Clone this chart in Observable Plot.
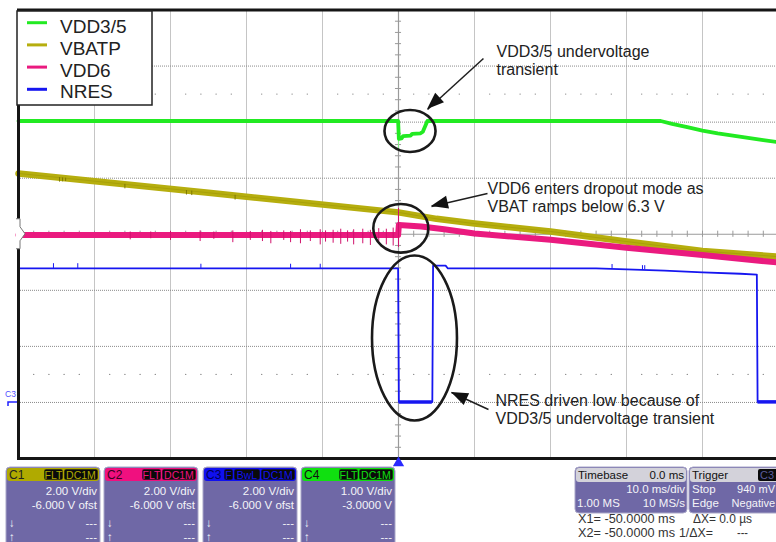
<!DOCTYPE html>
<html>
<head>
<meta charset="utf-8">
<script src="https://cdn.jsdelivr.net/npm/d3@7"></script>
<script src="https://cdn.jsdelivr.net/npm/@observablehq/plot@0.6"></script>
<style>
  html, body { margin: 0; padding: 0; background: #fff; }
  #wrap { position: relative; width: 776px; height: 542px; overflow: hidden; font-family: "Liberation Sans", Arial, sans-serif; }
  #chart { position: absolute; left: 0; top: 0; }
  #chart svg { max-width: none !important; }
  #panel { position: absolute; left: 0; top: 466px; }
</style>
</head>
<body>
<div id="wrap"><div id="chart"></div><svg id="panel" width="776" height="76"></svg></div>
<script>
// ---- Screen: 10 ms/div, trigger at 0 ms; vertical axis in divisions ----
const timeDomain = [-50, 50];
const divDomain = [-4, 4];
const gridTimes = [-40, -30, -20, -10, 10, 20, 30, 40];
const gridDivs = [-3, -2, -1, 1, 2, 3];

// ---- Channels ----
const traceNames = ["VDD3/5", "VBATP", "VDD6", "NRES"];
const traceColors = ["#22ea22", "#b6ae0e", "#ea1a7f", "#1616f0"];
const voltsPerDiv = [1, 2, 2, 2];
const offsetVolts = [-3, -6, -6, -6];

// VDD3/5 (C4)
const vdd35Time  = [-50, -0.05, 0.05, 0.4, 0.6, 1.6, 1.8, 2.9, 3.2, 3.8, 34.5, 36, 38, 40, 42, 44, 46, 48, 50];
const vdd35Volts = [5.02, 5.02, 4.70, 4.71, 4.75, 4.76, 4.79, 4.80, 4.83, 5.02, 5.02, 4.97, 4.91, 4.85, 4.80, 4.76, 4.72, 4.68, 4.64];
// VBATP (C1)
const vbatTime  = [-50, -25, 0, 5, 10, 20, 30, 40, 50];
const vbatVolts = [8.17, 7.48, 6.78, 6.55, 6.38, 6.10, 5.74, 5.40, 5.20];
// VDD6 (C2)
const vdd6Time  = [-50, -0.05, 0.05, 3, 6, 10, 20, 30, 40, 50];
const vdd6Volts = [5.97, 5.97, 6.33, 6.28, 6.18, 6.03, 5.80, 5.52, 5.26, 4.99];
// NRES (C3)
const nresTime  = [-50, -0.05, 0.05, 4.45, 4.55, 6.2, 6.5, 26, 35, 40, 45, 47.15, 47.25, 50];
const nresVolts = [4.78, 4.78, 0.02, 0.02, 4.88, 4.88, 4.78, 4.78, 4.70, 4.64, 4.59, 4.56, 0.02, 0.02];
const nresLowStart = [0.1, 47.3];
const nresLowEnd   = [4.45, 50];
const nresLowVolts = [0.02, 0.02];

// Glitches (time in ms, low/high in volts)
const vdd6GlitchTime = [-35.3, -32.6, -30.0, -26.1, -24.3, -21.8, -19.5, -17.9, -16.8, -15.1, -14.2, -12.9, -11.6, -10.3, -9.6, -8.6, -7.6, -6.7, -5.9, -4.7, -3.7, -2.6, -1.6, -0.7, 0];
const vdd6GlitchLow  = [5.80, 5.84, 5.78, 5.74, 5.82, 5.70, 5.78, 5.74, 5.66, 5.78, 5.70, 5.66, 5.74, 5.62, 5.72, 5.68, 5.64, 5.72, 5.62, 5.66, 5.60, 5.64, 5.62, 5.58, 5.53];
const vdd6GlitchHigh = [6.08, 6.08, 6.10, 6.12, 6.08, 6.12, 6.10, 6.14, 6.10, 6.12, 6.10, 6.16, 6.12, 6.16, 6.12, 6.14, 6.18, 6.12, 6.16, 6.18, 6.14, 6.20, 6.18, 6.22, 6.92];
const vbatGlitchTime = [-44.6, -44.2, -43.8, -36.0, -27.9, -27.2, -21.5];
const vbatGlitchLow  = [7.86, 7.87, 7.88, 7.62, 7.40, 7.38, 7.22];
const vbatGlitchHigh = [8.02, 8.01, 8.00, 7.78, 7.56, 7.54, 7.39];
const nresGlitchTime = [-45.4, -42.2, -26.0, -14.2, -10.3, 28.1, 32.1, 32.4];
const nresGlitchLow  = [4.78, 4.78, 4.78, 4.78, 4.78, 4.78, 4.74, 4.74];
const nresGlitchHigh = [4.95, 4.95, 4.93, 4.93, 4.93, 4.92, 4.88, 4.88];
const vdd35GlitchTime = [0];
const vdd35GlitchLow  = [4.49];
const vdd35GlitchHigh = [4.70];

// ---- Annotations ----
const noteText = ["VDD3/5 undervoltage\ntransient", "VDD6 enters dropout mode as\nVBAT ramps below 6.3 V", "NRES driven low because of\nVDD3/5 undervoltage transient"];
const noteTime = [12.89, 11.71, 12.76];
const noteDiv  = [3.387, 0.952, -2.830];
const arrowFromTime = [11.18, 11.71, 11.84];
const arrowFromDiv  = [3.134, 0.727, -3.126];
const arrowToTime   = [3.82, 4.34, 6.97];
const arrowToDiv    = [2.225, 0.495, -2.823];
const ellipseTime = [1.58, 0.37, 2.17];
const ellipseDiv  = [1.833, 0.097, -1.86];
const ellipseHalfTime = [3.36, 3.62, 5.59];
const ellipseHalfDiv  = [0.375, 0.433, 1.472];

// ---- Helpers ----
const toDiv = (ch, v) => (v + offsetVolts[ch]) / voltsPerDiv[ch];
const traceRows = (ch, ts, vs) => ts.map((t, i) => ({t, div: toDiv(ch, vs[i])}));
const glitchRows = (ch, ts, lo, hi) => ts.map((t, i) => ({t, lo: toDiv(ch, lo[i]), hi: toDiv(ch, hi[i])}));

const vdd35Rows = traceRows(0, vdd35Time, vdd35Volts);
const vbatRows  = traceRows(1, vbatTime, vbatVolts);
const vdd6Rows  = traceRows(2, vdd6Time, vdd6Volts);
const nresRows  = traceRows(3, nresTime, nresVolts);
const nresLowRows = nresLowStart.map((t1, i) => ({t1, t2: nresLowEnd[i], div: toDiv(3, nresLowVolts[i])}));

const noteRows = noteText.map((text, i) => ({text, t: noteTime[i], div: noteDiv[i]}));
const arrowRows = arrowFromTime.map((t1, i) => ({t1, d1: arrowFromDiv[i], t2: arrowToTime[i], d2: arrowToDiv[i]}));

// graticule: minor ticks on the centre axes (1/5 div) and half-division dot rows
const minorTimes = d3.range(-50, 50.001, 2);
const minorDivs = d3.range(-4, 4.001, 0.2);
const dotRows = d3.range(-48, 48.001, 2).filter(t => Math.abs(t % 10) > 0.01)
  .flatMap(t => [{t, div: 2.5}, {t, div: -2.5}]);

const plot = Plot.plot({
  width: 778,
  height: 466,
  marginLeft: 18,
  marginRight: 0,
  marginTop: 9.5,
  marginBottom: 8,
  x: {domain: timeDomain, axis: null},
  y: {domain: divDomain, axis: null},
  style: {background: "white", maxWidth: "none", overflow: "visible"},
  marks: [
    Plot.ruleX(gridTimes, {stroke: "#8a8a8a", strokeDasharray: "1,1"}),
    Plot.ruleY(gridDivs, {stroke: "#8a8a8a", strokeDasharray: "1,1"}),
    Plot.ruleX([0], {stroke: "#9a9a9a", strokeWidth: 1.2}),
    Plot.ruleY([0], {stroke: "#9a9a9a", strokeWidth: 1.2}),
    Plot.ruleX(minorTimes, {x: d => d, y1: -0.055, y2: 0.055, stroke: "#9a9a9a"}),
    Plot.ruleY(minorDivs, {y: d => d, x1: -0.4, x2: 0.4, stroke: "#9a9a9a"}),
    Plot.dot(dotRows, {x: "t", y: "div", r: 0.7, fill: "#888", stroke: null}),

    // traces
    Plot.line(vbatRows, {x: "t", y: "div", stroke: traceColors[1], strokeWidth: 6.5}),
    Plot.line(vbatRows, {x: "t", y: "div", stroke: "#8c8700", strokeWidth: 1, strokeOpacity: 0.35}),
    Plot.ruleX(glitchRows(1, vbatGlitchTime, vbatGlitchLow, vbatGlitchHigh), {x: "t", y1: "lo", y2: "hi", stroke: "#7f7a00", strokeWidth: 1}),
    Plot.line(vdd6Rows, {x: "t", y: "div", stroke: traceColors[2], strokeWidth: 6}),
    Plot.ruleX(glitchRows(2, vdd6GlitchTime, vdd6GlitchLow, vdd6GlitchHigh), {x: "t", y1: "lo", y2: "hi", stroke: "#d0126c", strokeWidth: 1}),
    Plot.line(nresRows, {x: "t", y: "div", stroke: traceColors[3], strokeWidth: 1.8}),
    Plot.ruleY(nresLowRows, {y: "div", x1: "t1", x2: "t2", stroke: traceColors[3], strokeWidth: 3.5}),
    Plot.ruleX(glitchRows(3, nresGlitchTime, nresGlitchLow, nresGlitchHigh), {x: "t", y1: "lo", y2: "hi", stroke: traceColors[3], strokeWidth: 1}),
    Plot.ruleX(glitchRows(0, vdd35GlitchTime, vdd35GlitchLow, vdd35GlitchHigh), {x: "t", y1: "lo", y2: "hi", stroke: "#86ee86", strokeWidth: 1}),
    Plot.line(vdd35Rows, {x: "t", y: "div", stroke: traceColors[0], strokeWidth: 3.8}),

    // annotations
    Plot.link(arrowRows, {x1: "t1", y1: "d1", x2: "t2", y2: "d2", stroke: "#1e1e1e", strokeWidth: 1.5}),
    Plot.text(noteRows, {x: "t", y: "div", text: "text", textAnchor: "start", lineAnchor: "top", lineHeight: 1.12,
      fontSize: 16, fontFamily: "Liberation Sans, Arial, sans-serif", fill: "#222"}),

    Plot.frame({stroke: "#151515", strokeWidth: 3}),
    Plot.dot([0], {x: d => d, y: -4, dy: 4.5, symbol: "triangle", r: 4.2, fill: "#2a2aff", stroke: null})
  ]
});

// ellipses, arrowheads, channel markers and legend drawn with the plot's own scales
const sx = plot.scale("x"), sy = plot.scale("y");
const svg = d3.select(plot);
const X = t => sx.apply(t), Y = d => sy.apply(d);

const gAnn = svg.append("g");
gAnn.selectAll("ellipse").data(ellipseTime).join("ellipse")
  .attr("cx", (t) => X(t))
  .attr("cy", (t, i) => Y(ellipseDiv[i]))
  .attr("rx", (t, i) => X(t + ellipseHalfTime[i]) - X(t))
  .attr("ry", (t, i) => Y(ellipseDiv[i]) - Y(ellipseDiv[i] + ellipseHalfDiv[i]))
  .attr("fill", "none").attr("stroke", "#1a1a1a").attr("stroke-width", 2.6);

gAnn.selectAll("path.head").data(arrowRows).join("path").attr("class", "head")
  .attr("d", a => {
    const px = X(a.t2), py = Y(a.d2), qx = X(a.t1), qy = Y(a.d1);
    const len = Math.hypot(px - qx, py - qy), ux = (px - qx) / len, uy = (py - qy) / len;
    const L = 17, W = 6.5, bx = px - ux * L, by = py - uy * L;
    return `M${px},${py}L${bx - uy * W},${by + ux * W}L${bx + uy * W},${by - ux * W}Z`;
  })
  .attr("fill", "#111");

// channel ground / offset markers on the left edge
const y0 = Y(0);
svg.append("path")
  .attr("d", `M16,${y0 - 15}H20V${y0 - 7}L25,${y0}L20,${y0 + 7}V${y0 + 15}H16`)
  .attr("fill", "white").attr("stroke", "#777").attr("stroke-width", 1);
const yC3 = Y(toDiv(3, 0));
svg.append("text").attr("x", 5).attr("y", yC3 - 5).attr("font-size", 8.5).attr("text-anchor", "start")
  .attr("font-family", "Liberation Sans, Arial, sans-serif").attr("fill", "#5050ff").text("C3");
svg.append("path").attr("d", `M8,${yC3 + 4}V${yC3}H17`).attr("fill", "none").attr("stroke", "#2020ff").attr("stroke-width", 1.5);

// legend
const gLeg = svg.append("g").attr("text-anchor", "start");
gLeg.append("rect").attr("x", 17).attr("y", 11).attr("width", 135).attr("height", 94)
  .attr("fill", "white").attr("stroke", "#222").attr("stroke-width", 1.5);
traceNames.forEach((name, i) => {
  gLeg.append("line").attr("x1", 27).attr("x2", 47).attr("y1", 22.7 + i * 22.2).attr("y2", 22.7 + i * 22.2)
    .attr("stroke", traceColors[i]).attr("stroke-width", 3);
  gLeg.append("text").attr("x", 60).attr("y", 33.3 + i * 21.7).attr("font-size", 19).attr("text-anchor", "start")
    .attr("font-family", "Liberation Sans, Arial, sans-serif").attr("fill", "#222").text(name);
});

document.getElementById("chart").appendChild(plot);

// ---- Instrument status panel ----
const panelFont = "Liberation Sans, Arial, sans-serif";
const boxFill = "#6f68a6";
const chLabels = ["C1", "C2", "C3", "C4"];
const chColors = ["#b0aa00", "#f0107f", "#1010f0", "#10e010"];
const chLabelInk = ["#222", "#3a0020", "#00005a", "#111"];
const chTags = [["FLT", "DC1M"], ["FLT", "DC1M"], ["F", "BwL", "DC1M"], ["FLT", "DC1M"]];
const chScale = ["2.00 V/div", "2.00 V/div", "2.00 V/div", "1.00 V/div"];
const chOffset = ["-6.000 V ofst", "-6.000 V ofst", "-6.000 V ofst", "-3.0000 V"];
const boxLeft = [6, 104, 203, 301];

const panel = d3.select("#panel");
const txt = (g, x, y, s, opts = {}) => {
  const el = g.append("text").attr("x", x).attr("y", y)
    .attr("font-family", panelFont).attr("font-size", opts.size || 11.5)
    .attr("fill", opts.fill || "#f4f4f8").attr("text-anchor", opts.anchor || "start").text(s);
  if (opts.fit) el.attr("textLength", opts.fit).attr("lengthAdjust", "spacingAndGlyphs");
  return el;
};

chLabels.forEach((c, i) => {
  const g = panel.append("g").attr("transform", `translate(${boxLeft[i]},0)`);
  g.append("rect").attr("x", 0).attr("y", 1).attr("width", 94).attr("height", 90).attr("rx", 4)
    .attr("fill", boxFill).attr("stroke", "#a9a6c8").attr("stroke-width", 1);
  g.append("rect").attr("x", 1).attr("y", 2).attr("width", 92).attr("height", 13).attr("rx", 3).attr("fill", chColors[i]);
  txt(g, 3, 13, c, {fill: chLabelInk[i], size: 12});
  let right = 92;
  const tagW = {"FLT": 19, "DC1M": 34, "F": 9, "BwL": 26};
  chTags[i].slice().reverse().forEach(tag => {
    const w = tagW[tag];
    g.append("rect").attr("x", right - w).attr("y", 3).attr("width", w).attr("height", 11).attr("rx", 2)
      .attr("fill", "#0a0a0a").attr("stroke", chColors[i]).attr("stroke-width", 0.6);
    txt(g, right - w / 2, 12.5, tag, {fill: chColors[i], size: 10.5, anchor: "middle"});
    right -= w + 1;
  });
  txt(g, 91, 29, chScale[i], {anchor: "end"});
  txt(g, 91, 43, chOffset[i], {anchor: "end"});
  txt(g, 3, 61, "\u2193");
  txt(g, 91, 61, "---", {anchor: "end"});
  txt(g, 3, 75, "\u2191");
  txt(g, 91, 75, "---", {anchor: "end"});
});

// timebase box
const tb = panel.append("g");
tb.append("rect").attr("x", 575).attr("y", 1).attr("width", 112).attr("height", 46).attr("rx", 4)
  .attr("fill", boxFill).attr("stroke", "#a9a6c8");
tb.append("rect").attr("x", 576).attr("y", 2).attr("width", 110).attr("height", 14).attr("rx", 3).attr("fill", "#d3d2da");
txt(tb, 578, 13, "Timebase", {fill: "#111"});
txt(tb, 684, 13, "0.0 ms", {fill: "#111", anchor: "end"});
txt(tb, 685, 27, "10.0 ms/div", {anchor: "end"});
txt(tb, 577, 41, "1.00 MS");
txt(tb, 685, 41, "10 MS/s", {anchor: "end"});

// trigger box
const tr = panel.append("g");
tr.append("rect").attr("x", 689).attr("y", 1).attr("width", 112).attr("height", 46).attr("rx", 4)
  .attr("fill", boxFill).attr("stroke", "#a9a6c8");
tr.append("rect").attr("x", 690).attr("y", 2).attr("width", 110).attr("height", 14).attr("rx", 3).attr("fill", "#d3d2da");
txt(tr, 692, 13, "Trigger", {fill: "#111"});
tr.append("rect").attr("x", 758).attr("y", 3).attr("width", 24).attr("height", 12).attr("rx", 2).attr("fill", "#0a0a0a");
txt(tr, 760, 13, "C3", {fill: "#5a5a9a", size: 11});
txt(tr, 692, 27, "Stop");
txt(tr, 775, 27, "940 mV", {anchor: "end", size: 11});
txt(tr, 692, 41, "Edge");
txt(tr, 775, 41, "Negative", {anchor: "end", size: 11});

// cursor readouts
const cur = panel.append("g").attr("xml:space", "preserve");
const ink = (fit) => ({fill: "#333", size: 12, fit});
txt(cur, 578, 57, "X1=  -50.0000 ms", ink(97));
txt(cur, 693, 57, "\u0394X=  0.0 \u00b5s", ink(59));
txt(cur, 578, 71, "X2=  -50.0000 ms", ink(97));
txt(cur, 679, 71, "1/\u0394X=", ink(34));
txt(cur, 737, 71, "---", ink(11));
</script>
</body>
</html>
